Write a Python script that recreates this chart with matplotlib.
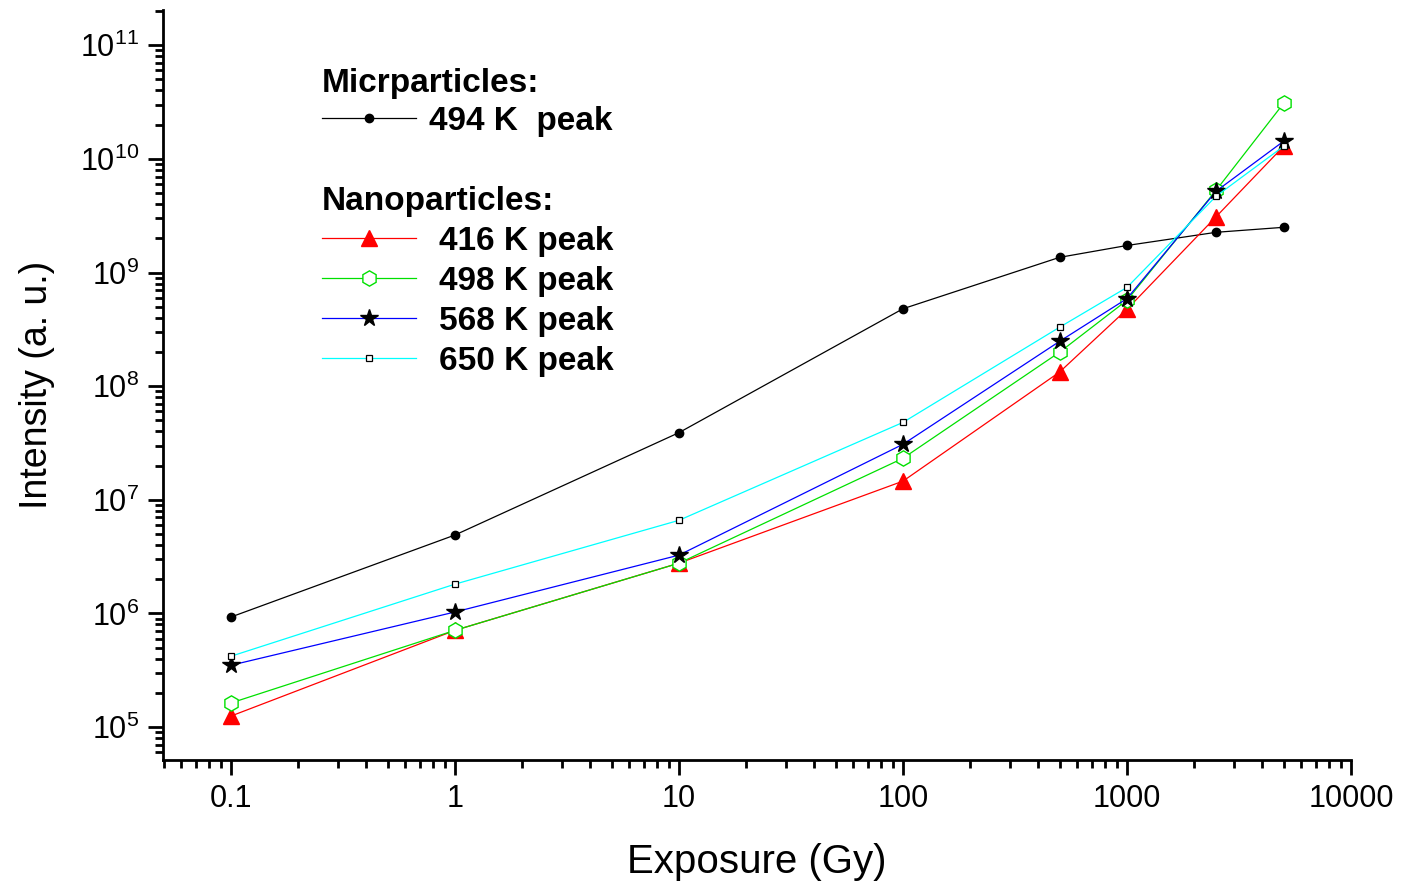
import matplotlib
matplotlib.use('Agg')
import matplotlib.pyplot as plt
from matplotlib.ticker import LogLocator, NullFormatter

plt.rcParams['font.family'] = ['Liberation Sans', 'DejaVu Sans']
plt.rcParams['mathtext.fontset'] = 'custom'
plt.rcParams['mathtext.rm'] = 'Liberation Sans'
plt.rcParams['mathtext.it'] = 'Liberation Sans'
plt.rcParams['mathtext.default'] = 'regular'

# exposure (Gy)
dose = [0.1, 1, 10, 100, 500, 1000, 2500, 5000]

# microparticles
micro_494 = [9.3e5, 4.9e6, 3.9e7, 4.8e8, 1.36e9, 1.73e9, 2.26e9, 2.5e9]

# nanoparticles
nano_416 = [1.25e5, 7.1e5, 2.77e6, 1.46e7, 1.33e8, 4.75e8, 3.1e9, 1.29e10]
nano_498 = [1.63e5, 7.1e5, 2.77e6, 2.32e7, 1.99e8, 5.7e8, 5.3e9, 3.08e10]
nano_568 = [3.5e5, 1.03e6, 3.26e6, 3.08e7, 2.48e8, 5.9e8, 5.2e9, 1.43e10]
nano_650 = [4.2e5, 1.81e6, 6.6e6, 4.8e7, 3.3e8, 7.4e8, 4.7e9, 1.29e10]

xtick_vals = [0.1, 1, 10, 100, 1000, 10000]
xtick_labels = ['0.1', '1', '10', '100', '1000', '10000']
ytick_vals = [1e5, 1e6, 1e7, 1e8, 1e9, 1e10, 1e11]
ytick_labels = ['$10^{5}$', '$10^{6}$', '$10^{7}$', '$10^{8}$', '$10^{9}$', '$10^{10}$', '$10^{11}$']

fig = plt.figure(figsize=(14.07, 8.88), dpi=100)
ax = fig.add_axes([0.1158, 0.1441, 0.8444, 0.8446])

lw = 0.9
h_micro, = ax.plot(dose, micro_494, color='black', lw=lw, marker='o', ms=6, label='494 K  peak')
h416, = ax.plot(dose, nano_416, color='red', lw=lw, marker='^', ms=12, label='416 K peak')
h498, = ax.plot(dose, nano_498, color='#00e000', lw=lw, marker='h', ms=11, mfc='white',
                mec='#00e000', label='498 K peak')
h568, = ax.plot(dose, nano_568, color='blue', lw=lw, marker='*', ms=13, mfc='black',
                mec='black', label='568 K peak')
h650, = ax.plot(dose, nano_650, color='cyan', lw=lw, marker='s', ms=5, mfc='white',
                mec='black', mew=0.9, label='650 K peak')

ax.set_xscale('log')
ax.set_yscale('log')
ax.set_xlim(10**-1.3036, 1e4)
ax.set_ylim(10**4.71, 10**11.31)

ax.spines['top'].set_visible(False)
ax.spines['right'].set_visible(False)
for s in ['left', 'bottom']:
    ax.spines[s].set_linewidth(2)

ax.set_xticks(xtick_vals)
ax.set_xticklabels(xtick_labels)
ax.set_yticks(ytick_vals)
ax.set_yticklabels(ytick_labels)

ax.xaxis.set_minor_locator(LogLocator(base=10, subs=range(2, 10), numticks=20))
ax.xaxis.set_minor_formatter(NullFormatter())
ax.yaxis.set_minor_locator(LogLocator(base=10, subs=range(2, 10), numticks=20))
ax.yaxis.set_minor_formatter(NullFormatter())

ax.tick_params(which='major', direction='out', length=11, width=2, labelsize=22, pad=6)
ax.tick_params(which='minor', direction='out', length=6, width=2)

ax.set_xlabel('Exposure (Gy)', fontsize=29, labelpad=21)
ax.set_ylabel('Intensity (a. u.)', fontsize=27, labelpad=18)

# legend headers
fig.text(0.229, 0.9065, 'Micrparticles:', fontsize=24, fontweight='bold', va='center', ha='left')
fig.text(0.229, 0.7736, 'Nanoparticles:', fontsize=24, fontweight='bold', va='center', ha='left')

fig.legend(handles=[h_micro], loc='upper left', bbox_to_anchor=(0.229, 0.881),
           frameon=False, prop={'size': 24, 'weight': 'bold'}, handlelength=2.8,
           handletextpad=0.4, borderpad=0, borderaxespad=0)

fig.legend(handles=[h416, h498, h568, h650], loc='upper left',
           bbox_to_anchor=(0.229, 0.746), frameon=False,
           prop={'size': 24, 'weight': 'bold'}, handlelength=2.8,
           handletextpad=0.7, labelspacing=0.27, borderpad=0, borderaxespad=0)

fig.savefig('out.png', dpi=100)
